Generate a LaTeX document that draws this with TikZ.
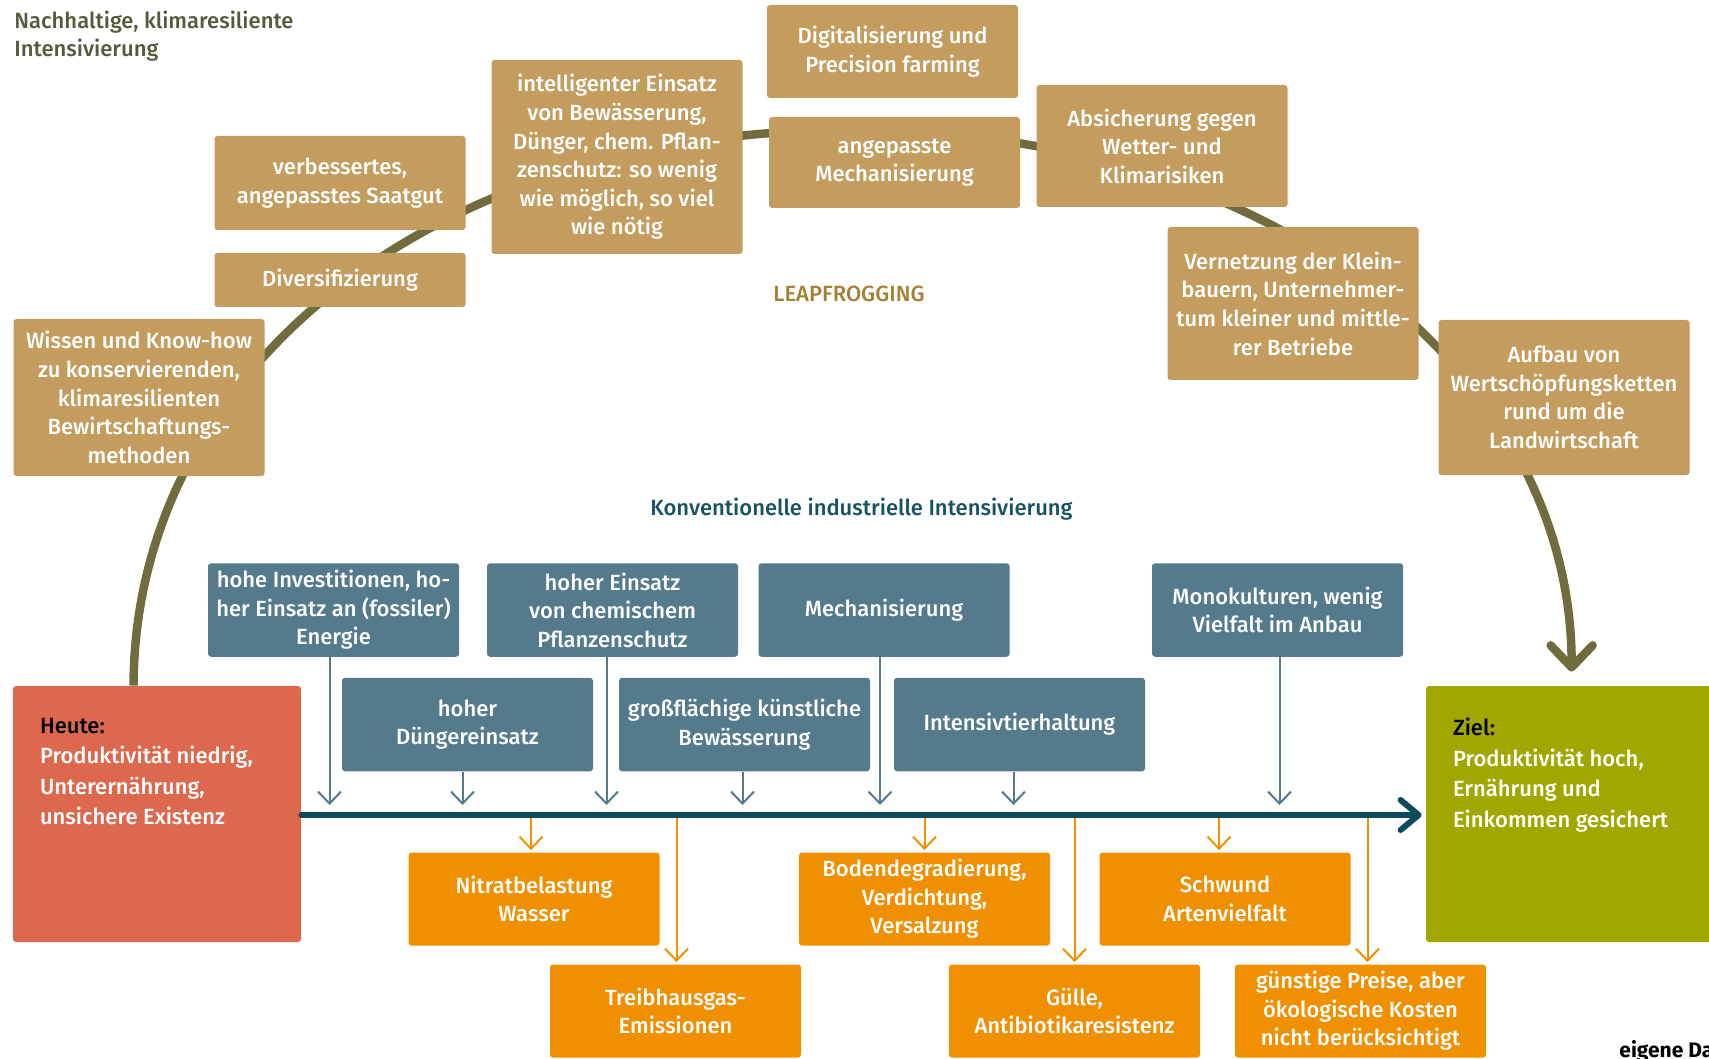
\documentclass[tikz,border=0pt]{standalone}
\usepackage{fontspec}
\setmainfont{Fira Sans}[UprightFont=* Medium, BoldFont=* Bold]
\usetikzlibrary{calc}
\usetikzlibrary{arrows.meta}
\usepackage{xcolor}

\definecolor{leaptan}{RGB}{196,156,94}
\definecolor{konvblue}{RGB}{84,122,140}
\definecolor{folgeorange}{RGB}{240,143,0}
\definecolor{heutered}{RGB}{222,104,78}
\definecolor{zielgreen}{RGB}{160,168,0}
\definecolor{bogenolive}{RGB}{112,108,62}
\definecolor{achsteal}{RGB}{14,74,94}
\definecolor{leapgold}{RGB}{165,128,50}
\definecolor{konvteal}{RGB}{22,82,98}
\definecolor{titelgrey}{RGB}{88,88,58}

\tikzset{
  box/.style={rectangle, rounded corners=1.5pt, minimum width=125.5pt, inner sep=0pt,
    align=center, text=white, font=\fontsize{11}{14.3}\selectfont},
  tanbox/.style={box, fill=leaptan},
  bluebox/.style={box, fill=konvblue, minimum height=46.75pt},
  orbox/.style={box, fill=folgeorange, minimum height=46.5pt},
  endbox/.style={rectangle, rounded corners=1.5pt, minimum width=144pt, minimum height=128pt, inner sep=0pt},
  endtext/.style={anchor=north west, inner sep=0pt, align=left, text=white, font=\fontsize{11}{15.25}\selectfont},
  bluearr/.style={konvblue, line width=1pt, -{Straight Barb[length=6pt,width=11.5pt]}},
  orarr/.style={folgeorange, line width=1pt, -{Straight Barb[length=6pt,width=11.5pt]}, shorten >=1pt},
}

\begin{document}
\begin{tikzpicture}[x=0.5pt, y=-0.5pt]
\clip (0,0) rectangle (1709,1059);

% Ausgangslage und Ziel
\node[endbox, fill=heutered] (heute) at (157,814) {};
\node[endbox, fill=zielgreen] (ziel) at (1570,814) {};
\node[endtext] (heutetxt) at ($(heute.north west)+(27,32)$)
  {\textcolor{black}{Heute:}\\Produktivität niedrig,\\Unterernährung,\\unsichere Existenz};
\node[endtext] (zieltxt) at ($(ziel.north west)+(27,32)$)
  {\textcolor{black}{Ziel:}\\Produktivität hoch,\\Ernährung und\\Einkommen gesichert};

% Bogen Leapfrogging
\coordinate (bogenstart) at ($(heute.north west)+(121,0)$);
\coordinate (bogentop) at (852,130);
\coordinate (bogenend) at ($(ziel.north west)+(146,-14)$);
\draw[bogenolive, line width=4.25pt, -{Straight Barb[length=11pt,width=21pt,line cap=round,line join=round]}]
  (bogenstart) .. controls (134,380) and (421,130) .. (bogentop)
  .. controls (1284,130) and (1572,380) .. (bogenend);

\node[anchor=north west, inner sep=0pt, align=left, text=titelgrey, font=\fontsize{11}{14}\selectfont]
  (titel) at (14,11) {Nachhaltige, klimaresiliente\\Intensivierung};
\node[text=leapgold, font=\fontsize{11}{14}\selectfont] (leap) at (849,294) {LEAPFROGGING};

\node[tanbox, minimum height=46.5pt] (digital) at (892.5,51.5) {Digitalisierung und\\Precision farming};
\node[tanbox, minimum height=45.5pt] (anmech) at (894.5,162.5) {angepasste\\Mechanisierung};
\node[tanbox, minimum height=97pt] (intell) at (617,157)
  {intelligenter Einsatz\\von Bewässerung,\\Dünger, chem. Pflan-\\zenschutz: so wenig\\wie möglich, so viel\\wie nötig};
\node[tanbox, minimum height=47pt] (saatgut) at (340,183) {verbessertes,\\angepasstes Saatgut};
\node[tanbox, minimum height=27pt] (divers) at (340,280) {Diversifizierung};
\node[tanbox, minimum height=78.5pt] (wissen) at (139,397.5)
  {Wissen und Know-how\\zu konservierenden,\\klimaresilienten\\Bewirtschaftungs-\\methoden};
\node[tanbox, minimum height=61pt] (absich) at (1162,146) {Absicherung gegen\\Wetter- und\\Klimarisiken};
\node[tanbox, minimum height=76.5pt] (vernetz) at (1293,303.5)
  {Vernetzung der Klein-\\bauern, Unternehmer-\\tum kleiner und mittle-\\rer Betriebe};
\node[tanbox, minimum height=77.5pt] (aufbau) at (1564,397.5)
  {Aufbau von\\Wertschöpfungsketten\\rund um die\\Landwirtschaft};

% konventioneller Weg
\node[text=konvteal, font=\fontsize{11}{14}\selectfont] (konv) at (861.5,509) {Konventionelle industrielle Intensivierung};

\node[bluebox] (invest) at (333.5,610) {hohe Investitionen, ho-\\her Einsatz an (fossiler)\\Energie};
\node[bluebox] (chem) at (612.5,610) {hoher Einsatz\\von chemischem\\Pflanzenschutz};
\node[bluebox] (mech) at (884,610) {Mechanisierung};
\node[bluebox] (mono) at (1277.5,610) {Monokulturen, wenig\\Vielfalt im Anbau};
\node[bluebox] (duenger) at (467.5,724.5) {hoher\\Düngereinsatz};
\node[bluebox] (bewaess) at (744.5,724.5) {großflächige künstliche\\Bewässerung};
\node[bluebox] (tier) at (1019.5,724.5) {Intensivtierhaltung};

\node[orbox] (nitrat) at (534,899) {Nitratbelastung\\Wasser};
\node[orbox] (boden) at (924.5,899) {Bodendegradierung,\\Verdichtung,\\Versalzung};
\node[orbox] (schwund) at (1225,899) {Schwund\\Artenvielfalt};
\node[orbox] (treib) at (675.5,1011) {Treibhausgas-\\Emissionen};
\node[orbox] (guelle) at (1074.5,1011) {Gülle,\\Antibiotikaresistenz};
\node[orbox] (guenstig) at (1360.5,1011) {günstige Preise, aber\\ökologische Kosten\\nicht berücksichtigt};

\coordinate (ax) at (303,815);
\coordinate (bluetip) at (303,805);

\foreach \n/\dx in {invest/-4, chem/-6, mech/-4, mono/2, duenger/-5, bewaess/-2, tier/-6}
  \draw[bluearr] ($(\n.south)+(\dx,0)$) -- ($(\n.south |- bluetip)+(\dx,0)$);
\foreach \n/\dx in {nitrat/-3, treib/1, boden/0, guelle/0, schwund/-6, guenstig/7}
  \draw[orarr] ($(\n.north |- ax)+(\dx,0)$) -- ($(\n.north)+(\dx,0)$);

\draw[achsteal, line width=3pt, line cap=round, -{Straight Barb[length=9pt,width=15pt,line cap=round,line join=round]}, shorten >=2pt]
  (heute.east |- ax) -- (ziel.west |- ax);

\node[anchor=base west, inner sep=0pt, font=\fontsize{10.5}{12}\selectfont\bfseries] (quelle) at (1619,1057) {eigene Darstellung};
\end{tikzpicture}
\end{document}
